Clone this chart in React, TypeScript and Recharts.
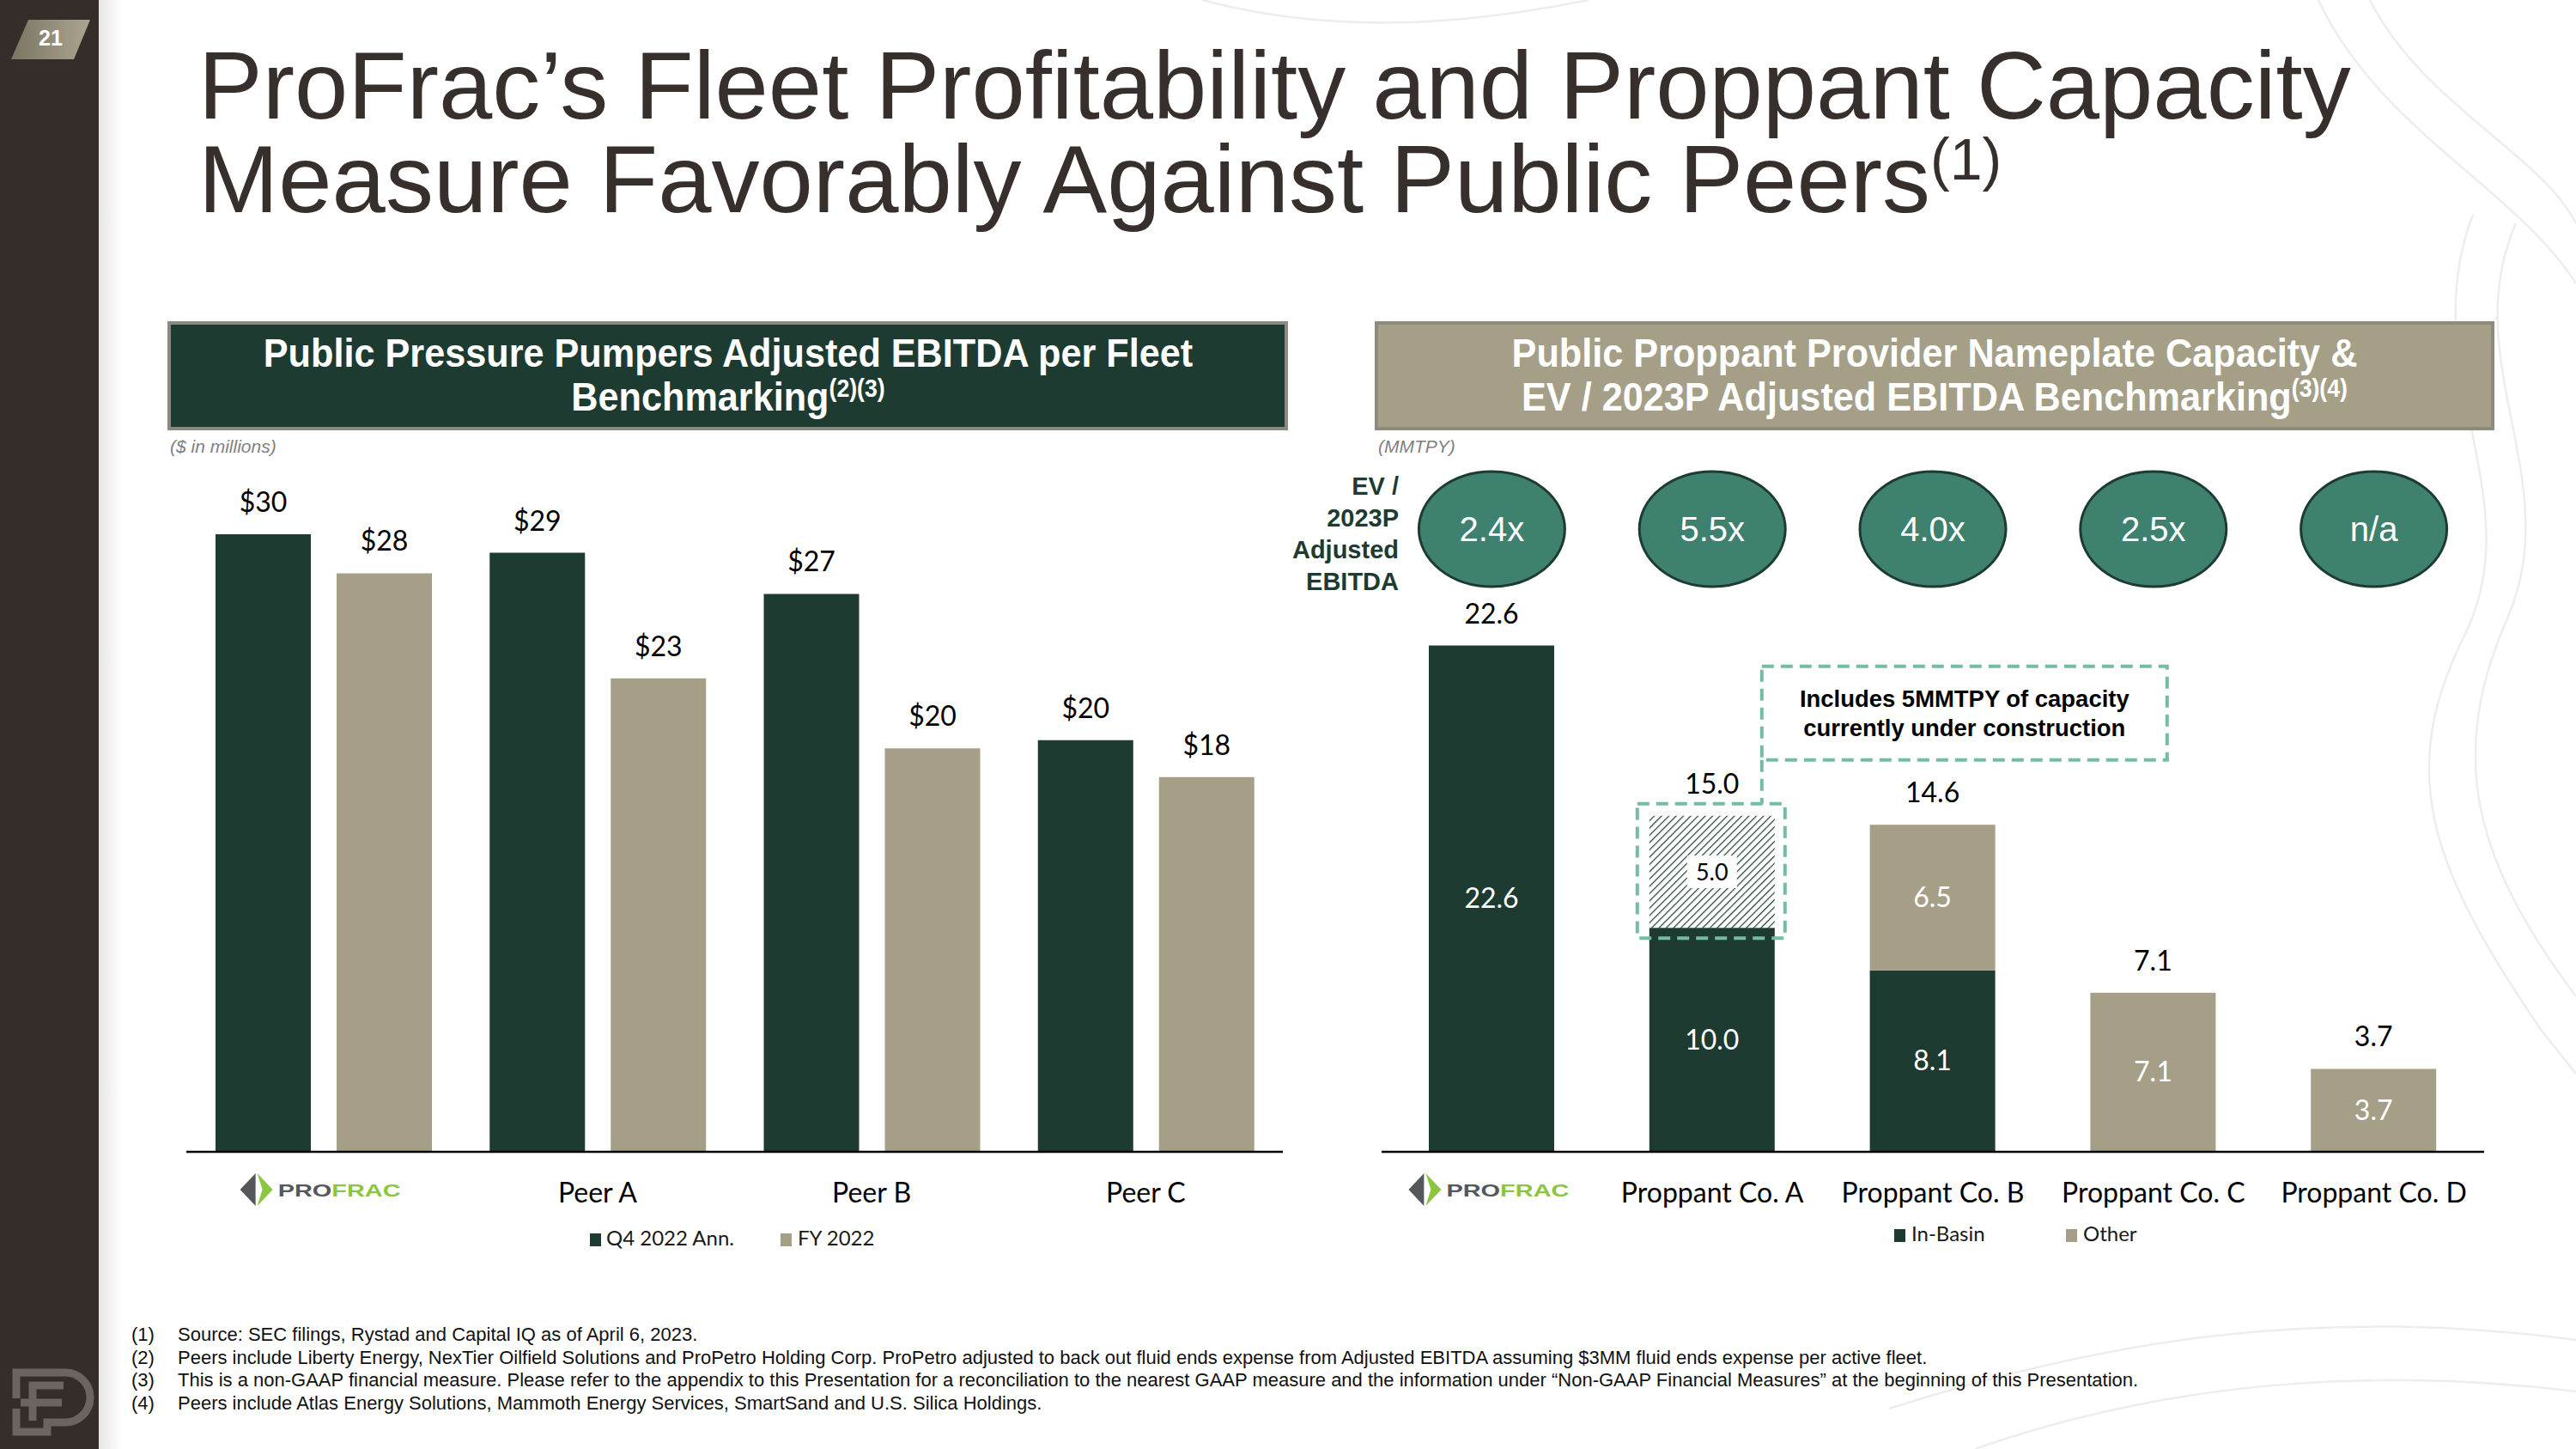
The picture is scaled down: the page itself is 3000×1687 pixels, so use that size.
import React from 'react';
import { BarChart, Bar, XAxis, YAxis, LabelList } from 'recharts';

// left chart: adjusted EBITDA per fleet ($MM)
const peers = ['ProFrac', 'Peer A', 'Peer B', 'Peer C'];
const q4Annualized = [30.0, 29.1, 27.1, 20.0];
const fy2022 = [28.1, 23.0, 19.6, 18.2];

// right chart: nameplate capacity (MMTPY)
const proppantCos = ['ProFrac', 'Proppant Co. A', 'Proppant Co. B', 'Proppant Co. C', 'Proppant Co. D'];
const inBasin = [22.6, 10.0, 8.1, 0, 0];
const underConstruction = [0, 5.0, 0, 0, 0];
const otherCapacity = [0, 0, 6.5, 7.1, 3.7];
const evMultiples = ['2.4x', '5.5x', '4.0x', '2.5x', 'n/a'];

const footnotes = [
  ['(1)', 'Source:  SEC filings, Rystad and Capital IQ as of April 6, 2023.'],
  ['(2)', 'Peers include Liberty Energy, NexTier Oilfield Solutions and ProPetro Holding Corp. ProPetro adjusted to back out fluid ends expense from Adjusted EBITDA assuming $3MM fluid ends expense per active fleet.'],
  ['(3)', 'This is a non-GAAP financial measure. Please refer to the appendix to this Presentation for a reconciliation to the nearest GAAP measure and the information under \u201cNon-GAAP Financial Measures\u201d at the beginning of this Presentation.'],
  ['(4)', 'Peers include Atlas Energy Solutions, Mammoth Energy Services, SmartSand and U.S. Silica Holdings.'],
];

const fleetData = peers.map((name, i) => ({ name, q4: q4Annualized[i], fy: fy2022[i] }));
const capData = proppantCos.map((name, i) => ({
  name,
  inBasin: inBasin[i],
  build: underConstruction[i],
  other: otherCapacity[i],
}));

const DARK = '#1e3b32';
const OLIVE = '#a59f87';
const TEAL = '#3e816e';
const DASH = '#74bca3';
const BROWN = '#352d2a';
const SANS = '"Liberation Sans", Arial, sans-serif';
const CHART_FONT = 'Lato, sans-serif';
const LOGO_GRAY = '#54585b';
const LOGO_GREEN = '#8cc63f';

function ProFracLogo({ x, y }: { x: number; y: number }) {
  const cy = y + 44;
  return (
    <g>
      <polygon points={`${x - 97},${cy} ${x - 79},${cy - 19} ${x - 79},${cy + 19}`} fill={LOGO_GRAY} />
      <polygon
        points={`${x - 77},${cy - 19} ${x - 59},${cy} ${x - 77},${cy + 19} ${x - 71},${cy}`}
        fill={LOGO_GREEN}
      />
      <text
        x={x - 53}
        y={y + 52}
        fontSize={21}
        fontWeight={900}
        fontFamily={SANS}
        textLength={143}
        lengthAdjust="spacingAndGlyphs"
      >
        <tspan fill={LOGO_GRAY}>PRO</tspan>
        <tspan fill={LOGO_GREEN}>FRAC</tspan>
      </text>
    </g>
  );
}

function CompanyTick(props: any) {
  const { x, y, payload } = props;
  if (payload.value === 'ProFrac') return <ProFracLogo x={x} y={y} />;
  return (
    <text x={x} y={y + 59} textAnchor="middle" fontSize={32} fontFamily={CHART_FONT} fill="#000">
      {payload.value}
    </text>
  );
}

function EvTick(props: any) {
  const { x, payload } = props;
  const label = evMultiples[proppantCos.indexOf(payload.value)];
  const cy = 96;
  return (
    <g>
      <ellipse cx={x} cy={cy} rx={85} ry={67} fill={TEAL} stroke={DARK} strokeWidth={3} />
      <text x={x} y={cy + 14} textAnchor="middle" fontSize={40} fontFamily={SANS} fill="#fff">
        {label}
      </text>
    </g>
  );
}

const SEG_KEYS = ['inBasin', 'build', 'other'];

function topKey(p: any) {
  let k = '';
  for (const key of SEG_KEYS) if (p[key] > 0) k = key;
  return k;
}

function segmentShape(key: string, fill: string) {
  return (props: any) => {
    const { x, y, width, height, payload } = props;
    const v = payload[key];
    if (!v || !height) return <g />;
    const cx = x + width / 2;
    const cy = y + height / 2;
    const total = payload.inBasin + payload.build + payload.other;
    const isTop = topKey(payload) === key;
    const totalLabel = isTop ? (
      <text x={cx} y={y - 26} textAnchor="middle" fontSize={32} fontFamily={CHART_FONT} fill="#000">
        {total.toFixed(1)}
      </text>
    ) : null;

    if (key === 'build') {
      const bx = x - 14;
      const by = y - 14;
      const bw = width + 26;
      const bh = height + 26;
      const calloutX = x + 131;
      const calloutY = y - 174;
      return (
        <g>
          <defs>
            <pattern id="hatch" width={6} height={6} patternUnits="userSpaceOnUse" patternTransform="rotate(45)">
              <rect width={6} height={6} fill="#fff" />
              <line x1={0} y1={0} x2={0} y2={6} stroke={DARK} strokeWidth={2.4} />
            </pattern>
          </defs>
          <rect x={x} y={y} width={width} height={height} fill="url(#hatch)" />
          <rect x={cx - 29} y={cy - 19} width={58} height={38} fill="#fff" />
          <text x={cx} y={cy + 10} textAnchor="middle" fontSize={27} fontFamily={CHART_FONT} fill="#000">
            {v.toFixed(1)}
          </text>
          <rect x={bx} y={by} width={bw} height={bh} fill="none" stroke={DASH} strokeWidth={4} strokeDasharray="14 8" />
          <line x1={calloutX} y1={calloutY + 109} x2={calloutX} y2={by} stroke={DASH} strokeWidth={4} strokeDasharray="14 8" />
          <rect x={calloutX} y={calloutY} width={472} height={109} fill="#fff" stroke={DASH} strokeWidth={4} strokeDasharray="14 8" />
          <g fontFamily={SANS} fontWeight={700} fontSize={28} fill="#000" textAnchor="middle">
            <text transform={`translate(${calloutX + 236},${calloutY + 47}) scale(0.98,1)`}>Includes 5MMTPY of capacity</text>
            <text transform={`translate(${calloutX + 236},${calloutY + 81}) scale(0.98,1)`}>currently under construction</text>
          </g>
          {totalLabel}
        </g>
      );
    }

    return (
      <g>
        <rect x={x} y={y} width={width} height={height} fill={fill} />
        <text x={cx} y={cy + 11} textAnchor="middle" fontSize={32} fontFamily={CHART_FONT} fill="#fff">
          {v.toFixed(1)}
        </text>
        {totalLabel}
      </g>
    );
  };
}

function Backdrop() {
  const curves = [
    'M2760 0 C2820 120 2960 180 3000 260',
    'M2700 0 C2770 150 2930 220 3000 330',
    'M2930 260 C2860 420 2990 560 2920 720 S2880 1000 3000 1160',
    'M2880 250 C2810 430 2950 580 2870 740 S2830 1010 2960 1200 L3000 1250',
    'M2200 1640 C2450 1560 2700 1520 3000 1560',
    'M2300 1687 C2520 1610 2760 1590 3000 1620',
    'M1400 0 C1550 40 1700 30 1850 0',
  ];
  return (
    <svg width={3000} height={1687} style={{ position: 'absolute', left: 0, top: 0 }}>
      <defs>
        <linearGradient id="badge" x1="0" x2="1" y1="0" y2="0">
          <stop offset="0" stopColor="#7a7464" />
          <stop offset="1" stopColor="#aba690" />
        </linearGradient>
        <linearGradient id="shade" x1="0" x2="1" y1="0" y2="0">
          <stop offset="0" stopColor="#000" stopOpacity={0.1} />
          <stop offset="1" stopColor="#000" stopOpacity={0} />
        </linearGradient>
      </defs>
      {curves.map((d, i) => (
        <path key={i} d={d} fill="none" stroke="#ededed" strokeWidth={2.5} />
      ))}

      <rect x={0} y={0} width={115} height={1687} fill={BROWN} />
      <rect x={115} y={0} width={28} height={1687} fill="url(#shade)" />
      <polygon points="33,23 105,23 86,69 13,69" fill="url(#badge)" />
      <text x={59} y={53} textAnchor="middle" fontSize={25} fontWeight={700} fontFamily={SANS} fill="#fff">21</text>
      <g fill="none" stroke="#6b6460" strokeWidth={9}>
        <path d="M19 1628 V1598 H76 A29 29 0 0 1 76 1656 H55 V1667 H19 V1640" />
        <path d="M38 1654 V1613 H74" />
        <path d="M24 1633 H72" />
      </g>

      <g fontFamily={SANS} fill="#372f2c" fontSize={112}>
        <text x={231} y={138}>ProFrac’s Fleet Profitability and Proppant Capacity</text>
        <text x={231} y={247}>
          Measure Favorably Against Public Peers
          <tspan fontSize={68} dy={-38}>(1)</tspan>
        </text>
      </g>

      <rect x={197} y={376} width={1301} height={123} fill={DARK} stroke="#8b8a82" strokeWidth={4} />
      <rect x={1603} y={376} width={1300} height={123} fill="#a59f88" stroke="#8e8a7c" strokeWidth={4} />
      <g fontFamily={SANS} fontWeight={700} fontSize={47} fill="#fff" textAnchor="middle">
        <text transform="translate(848,427) scale(0.92,1)">Public Pressure Pumpers Adjusted EBITDA per Fleet</text>
        <text transform="translate(848,478) scale(0.92,1)">
          Benchmarking<tspan fontSize={29} dy={-16}>(2)(3)</tspan>
        </text>
        <text transform="translate(2253,427) scale(0.92,1)">Public Proppant Provider Nameplate Capacity &amp;</text>
        <text transform="translate(2253,478) scale(0.92,1)">
          EV / 2023P Adjusted EBITDA Benchmarking<tspan fontSize={29} dy={-16}>(3)(4)</tspan>
        </text>
      </g>

      <g fontFamily={SANS} fontStyle="italic" fontSize={21} fill="#7f7f7f">
        <text x={198} y={527}>($ in millions)</text>
        <text x={1605} y={527}>(MMTPY)</text>
      </g>

      <g fontFamily={SANS} fontWeight={700} fontSize={29} fill={DARK} textAnchor="end">
        <text x={1629} y={576}>EV /</text>
        <text x={1629} y={613}>2023P</text>
        <text x={1629} y={650}>Adjusted</text>
        <text x={1629} y={687}>EBITDA</text>
      </g>

      <g fontFamily={CHART_FONT} fontSize={24} fill="#1a1a1a">
        <rect x={687} y={1436} width={13} height={15} fill={DARK} />
        <text x={706} y={1450}>Q4 2022 Ann.</text>
        <rect x={909} y={1436} width={13} height={15} fill={OLIVE} />
        <text x={929} y={1450}>FY 2022</text>
        <rect x={2206} y={1431} width={13} height={15} fill={DARK} />
        <text x={2226} y={1445}>In-Basin</text>
        <rect x={2406} y={1431} width={13} height={15} fill={OLIVE} />
        <text x={2426} y={1445}>Other</text>
      </g>

      <g fontFamily={SANS} fontSize={22} fill="#111" style={{ whiteSpace: 'pre' }}>
        {footnotes.map(([n, t], i) => (
          <g key={n}>
            <text x={153} y={1561 + i * 26.5}>{n}</text>
            <text x={207} y={1561 + i * 26.5}>{t}</text>
          </g>
        ))}
      </g>
    </svg>
  );
}

export default function App() {
  return (
    <div
      style={{
        position: 'absolute',
        left: 0,
        top: 0,
        width: 3000,
        height: 1687,
        background: '#fff',
        overflow: 'hidden',
      }}
    >
      <Backdrop />

      <div style={{ position: 'absolute', left: 217, top: 500 }}>
        <BarChart
          width={1277}
          height={1000}
          data={fleetData}
          margin={{ top: 74, right: 0, bottom: 0, left: 0 }}
          barGap={30}
        >
          <XAxis
            dataKey="name"
            height={159}
            interval={0}
            tickSize={0}
            tickMargin={0}
            tickLine={false}
            axisLine={{ stroke: '#000', strokeWidth: 2.5 }}
            tick={<CompanyTick />}
          />
          <YAxis hide domain={[0, 32]} />
          <Bar dataKey="q4" fill={DARK} barSize={111} isAnimationActive={false}>
            <LabelList
              dataKey="q4"
              position="top"
              offset={26}
              formatter={(v: any) => `$${Math.round(Number(v))}`}
              fill="#000"
              fontSize={32}
              fontFamily={CHART_FONT}
            />
          </Bar>
          <Bar dataKey="fy" fill={OLIVE} barSize={111} isAnimationActive={false}>
            <LabelList
              dataKey="fy"
              position="top"
              offset={26}
              formatter={(v: any) => `$${Math.round(Number(v))}`}
              fill="#000"
              fontSize={32}
              fontFamily={CHART_FONT}
            />
          </Bar>
        </BarChart>
      </div>

      <div style={{ position: 'absolute', left: 1609, top: 520 }}>
        <BarChart
          width={1284}
          height={980}
          data={capData}
          margin={{ top: 0, right: 0, bottom: 0, left: 0 }}
        >
          <XAxis
            xAxisId="ev"
            orientation="top"
            dataKey="name"
            height={195}
            interval={0}
            axisLine={false}
            tickLine={false}
            tick={<EvTick />}
          />
          <XAxis
            dataKey="name"
            height={159}
            interval={0}
            tickSize={0}
            tickMargin={0}
            tickLine={false}
            axisLine={{ stroke: '#000', strokeWidth: 2.5 }}
            tick={<CompanyTick />}
          />
          <YAxis hide domain={[0, 24]} />
          <Bar dataKey="inBasin" stackId="cap" fill={DARK} barSize={146} isAnimationActive={false} shape={segmentShape('inBasin', DARK)} />
          <Bar dataKey="build" stackId="cap" fill="#fff" barSize={146} isAnimationActive={false} shape={segmentShape('build', '#fff')} />
          <Bar dataKey="other" stackId="cap" fill={OLIVE} barSize={146} isAnimationActive={false} shape={segmentShape('other', OLIVE)} />
        </BarChart>
      </div>
    </div>
  );
}
